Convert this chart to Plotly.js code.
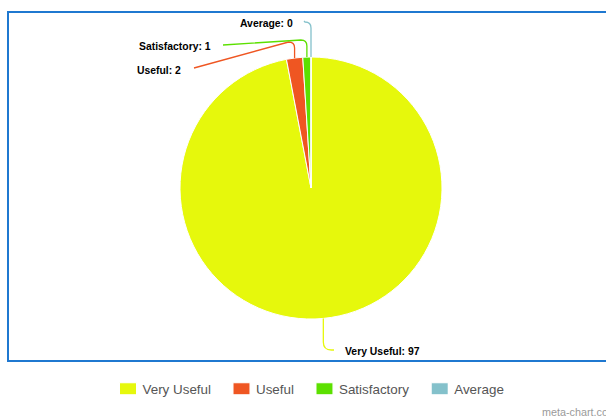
<!DOCTYPE html>
<html>
<head>
<meta charset="utf-8">
<script src="https://cdn.plot.ly/plotly-3.0.1.min.js"></script>
<style>
  html, body { margin: 0; padding: 0; background: #fff; }
  #chart { width: 606px; height: 417px; }
</style>
</head>
<body>
<div id="chart"></div>
<script>
// ---- data ----
const categories = ["Very Useful", "Useful", "Satisfactory", "Average"];
const values = [97, 2, 1, 0];
const colors = ["#e6f80c", "#ef5622", "#5ce000", "#84c1cb"];

// ---- layout helpers (pixels -> paper) ----
const W = 606, H = 417;
const px = x => x / W;
const py = y => 1 - y / H;

// pie geometry in pixels
const cx = 311, cy = 188, R = 131;

// label placement (layout, pixel space)
const labelLayout = [
  { tx: 343, ty: 351, anchor: "left",  elbow: 350, endX: 334, dir: "down" },
  { tx: 183, ty: 70,  anchor: "right", elbow: 42,  endX: 194, endY: 68, dir: "up" },
  { tx: 213, ty: 47,  anchor: "right", elbow: 40,  endX: 223, endY: 45, dir: "up" },
  { tx: 295, ty: 24,  anchor: "right", elbow: 22,  endX: 304, endY: 21, dir: "up" }
];

// compute slice mid-angles (clockwise from 12 o'clock)
const total = values.reduce((a, b) => a + b, 0);
let acc = 0;
const mids = values.map(v => {
  const start = acc;
  acc += v;
  return ((start + acc) / 2) / total * 2 * Math.PI;
});

const shapes = [];
const annotations = [];

// border rectangle
shapes.push({
  type: "rect", xref: "paper", yref: "paper",
  x0: px(8), x1: px(612), y0: py(361), y1: py(12),
  line: { color: "#1f78d0", width: 2 }, fillcolor: "rgba(0,0,0,0)", layer: "below"
});

categories.forEach((cat, i) => {
  const a = mids[i];
  const ax = cx + R * Math.sin(a);
  const ay = cy - R * Math.cos(a);
  const L = labelLayout[i];
  let path;
  const k = 6;
  if (L.dir === "up") {
    path = `M ${px(ax)} ${py(ay)} L ${px(ax)} ${py(L.elbow + k)} Q ${px(ax)} ${py(L.elbow)} ${px(ax - k)} ${py(L.elbow)} L ${px(L.endX)} ${py(L.endY)}`;
  } else {
    path = `M ${px(ax)} ${py(ay)} L ${px(ax)} ${py(L.elbow - 8)} Q ${px(ax)} ${py(L.elbow)} ${px(ax + 8)} ${py(L.elbow)} L ${px(L.endX)} ${py(L.elbow)}`;
  }
  shapes.push({
    type: "path", xref: "paper", yref: "paper", path: path,
    line: { color: colors[i], width: 1.3 }
  });
  annotations.push({
    xref: "paper", yref: "paper", x: px(L.tx), y: py(L.ty),
    xanchor: L.anchor, yanchor: "middle", showarrow: false,
    text: "<b>" + cat + ": " + values[i] + "</b>",
    font: { family: "Liberation Sans, Arial, sans-serif", size: 10.4, color: "#000" }
  });
});

annotations.push({
  xref: "paper", yref: "paper", x: px(540), y: py(412),
  xanchor: "left", yanchor: "middle", showarrow: false,
  text: "meta-chart.com",
  font: { family: "Liberation Sans, Arial, sans-serif", size: 10.8, color: "#9a9a9a" }
});

const trace = {
  type: "pie",
  labels: categories,
  values: values,
  sort: false,
  direction: "clockwise",
  rotation: 0,
  textinfo: "none",
  hoverinfo: "label+value",
  marker: { colors: colors, line: { color: "#ffffff", width: 1 } },
  domain: { x: [px(cx - R), px(cx + R)], y: [py(cy + R), py(cy - R)] }
};

const layout = {
  width: W, height: H,
  margin: { l: 0, r: 0, t: 0, b: 0 },
  paper_bgcolor: "#ffffff",
  showlegend: true,
  legend: {
    orientation: "h", x: 0.5 + 3 / W, xanchor: "center", y: py(389), yanchor: "middle",
    font: { family: "Liberation Sans, Arial, sans-serif", size: 13.4, color: "#555" },
    itemclick: false
  },
  shapes: shapes,
  annotations: annotations
};

Plotly.newPlot("chart", [trace], layout, { displayModeBar: false, staticPlot: true }).then(gd => {
  // enlarge legend swatches to match reference proportions
  gd.querySelectorAll(".legendpoints path.legendpie").forEach(p => {
    p.setAttribute("transform", "translate(25.5,0) scale(1.45,1)");
  });
});
</script>
</body>
</html>
